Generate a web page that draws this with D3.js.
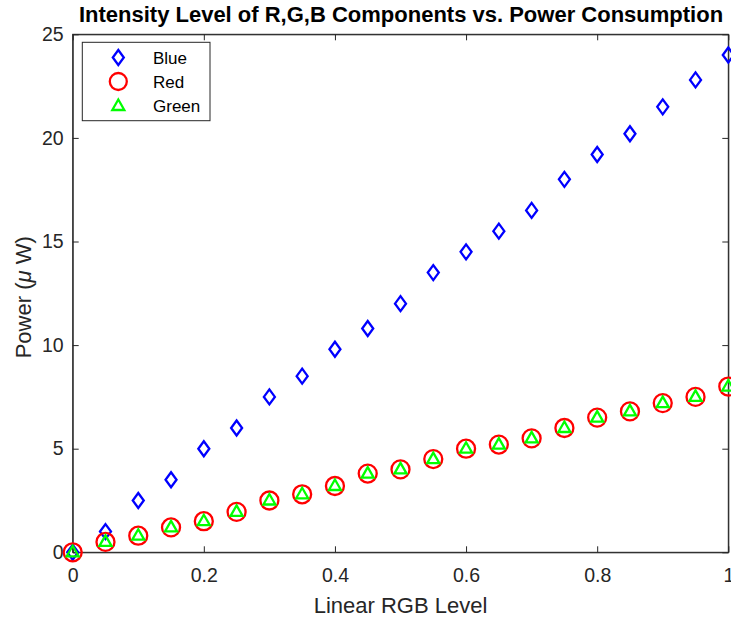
<!DOCTYPE html>
<html><head><meta charset="utf-8">
<script src="https://cdn.jsdelivr.net/npm/d3@7"></script>
<style>body{margin:0;background:#fff}svg{display:block}</style>
</head><body>
<svg id="c" width="731" height="619"></svg>
<script>
const levels = [0,0.05,0.1,0.15,0.2,0.25,0.3,0.35,0.4,0.45,0.5,0.55,0.6,0.65,0.7,0.75,0.8,0.85,0.9,0.95,1];
const blue  = [0,1,2.5,3.5,5,6,7.5,8.5,9.8,10.8,12,13.5,14.5,15.5,16.5,18,19.2,20.2,21.5,22.8,24];
const red   = [0,0.5,0.8,1.2,1.5,1.95,2.5,2.8,3.2,3.8,4,4.5,5,5.2,5.5,6,6.5,6.8,7.2,7.5,8];
const green = [0,0.5,0.8,1.2,1.5,1.95,2.5,2.8,3.2,3.8,4,4.5,5,5.2,5.5,6,6.5,6.8,7.2,7.5,8];
const xTicks = [0,0.2,0.4,0.6,0.8,1];
const yTicks = [0,5,10,15,20,25];
const seriesNames = ["Blue","Red","Green"];

const svg = d3.select("#c");
const L=72.7, R=728.3, T=34.3, B=552.3;
const axc = "#262626";
const x = d3.scaleLinear().domain([0,1]).range([L,R]);
const y = d3.scaleLinear().domain([0,25]).range([B,T]);
const font = "Liberation Sans, Arial, Helvetica, sans-serif";

// box
svg.append("rect").attr("x",L).attr("y",T).attr("width",R-L).attr("height",B-T)
  .attr("fill","none").attr("stroke",axc).attr("stroke-width",1);

// axes with inward ticks
const tl = 6;
const xAx = svg.append("g").attr("transform",`translate(0,${B})`)
  .call(d3.axisBottom(x).tickValues(xTicks).tickSizeInner(-tl).tickSizeOuter(0).tickPadding(16).tickFormat(d3.format("")));
const xAxT = svg.append("g").attr("transform",`translate(0,${T})`)
  .call(d3.axisTop(x).tickValues(xTicks).tickSizeInner(-tl).tickSizeOuter(0).tickFormat(""));
const yAx = svg.append("g").attr("transform",`translate(${L},0)`)
  .call(d3.axisLeft(y).tickValues(yTicks).tickSizeInner(-tl).tickSizeOuter(0).tickPadding(9));
const yAxR = svg.append("g").attr("transform",`translate(${R},0)`)
  .call(d3.axisRight(y).tickValues(yTicks).tickSizeInner(-tl).tickSizeOuter(0).tickFormat(""));
[xAx,xAxT,yAx,yAxR].forEach(g=>{
  g.select(".domain").attr("stroke",axc);
  g.selectAll(".tick line").attr("stroke",axc);
  g.selectAll("text").attr("fill",axc).style("font-family",font).style("font-size","19.5px");
});

// markers
const sw = 2.3;
const diamond = "M0,-7.5L5.5,0L0,7.5L-5.5,0Z";
const tri = "M0,-6.5L6,4L-6,4Z";
const cr = 9;
const g = svg.append("g");
g.selectAll(".b").data(levels).enter().append("path")
  .attr("d",diamond).attr("transform",(d,i)=>`translate(${x(d)},${y(blue[i])})`)
  .attr("fill","none").attr("stroke","#0000ff").attr("stroke-width",sw);
g.selectAll(".r").data(levels).enter().append("circle")
  .attr("cx",d=>x(d)).attr("cy",(d,i)=>y(red[i])).attr("r",cr)
  .attr("fill","none").attr("stroke","#ff0000").attr("stroke-width",sw);
g.selectAll(".g").data(levels).enter().append("path")
  .attr("d",tri).attr("transform",(d,i)=>`translate(${x(d)},${y(green[i])})`)
  .attr("fill","none").attr("stroke","#00ff00").attr("stroke-width",sw);

// title
svg.append("text").attr("x",401).attr("y",22).attr("text-anchor","middle")
  .style("font-family",font).style("font-weight","bold").style("font-size","22px")
  .attr("fill","#000").text("Intensity Level of R,G,B Components vs. Power Consumption");
// x label
svg.append("text").attr("x",(L+R)/2).attr("y",613).attr("text-anchor","middle")
  .style("font-family",font).style("font-size","22px").attr("fill",axc).text("Linear RGB Level");
// y label
const yl = svg.append("text").attr("transform",`translate(31,${(T+B)/2+4}) rotate(-90)`).attr("text-anchor","middle")
  .style("font-family",font).style("font-size","22px").attr("fill",axc);
yl.append("tspan").text("Power (");
yl.append("tspan").style("font-style","italic").text("μ");
yl.append("tspan").text(" W)");

// legend
const lg = svg.append("g");
lg.append("rect").attr("x",82.3).attr("y",42.3).attr("width",127.7).attr("height",78.4)
  .attr("fill","#fff").attr("stroke",axc).attr("stroke-width",1);
const ly = [57.5,81.5,106];
const lmx = 118.3;
lg.append("path").attr("d",diamond).attr("transform",`translate(${lmx},${ly[0]})`)
  .attr("fill","none").attr("stroke","#0000ff").attr("stroke-width",sw);
lg.append("circle").attr("cx",lmx).attr("cy",ly[1]).attr("r",cr-0.5)
  .attr("fill","none").attr("stroke","#ff0000").attr("stroke-width",sw);
lg.append("path").attr("d",tri).attr("transform",`translate(${lmx},${ly[2]})`)
  .attr("fill","none").attr("stroke","#00ff00").attr("stroke-width",sw);
seriesNames.forEach((n,i)=>{
  lg.append("text").attr("x",153).attr("y",ly[i]+6).style("font-family",font).style("font-size","17px")
    .attr("fill","#000").text(n);
});
</script>
</body></html>
